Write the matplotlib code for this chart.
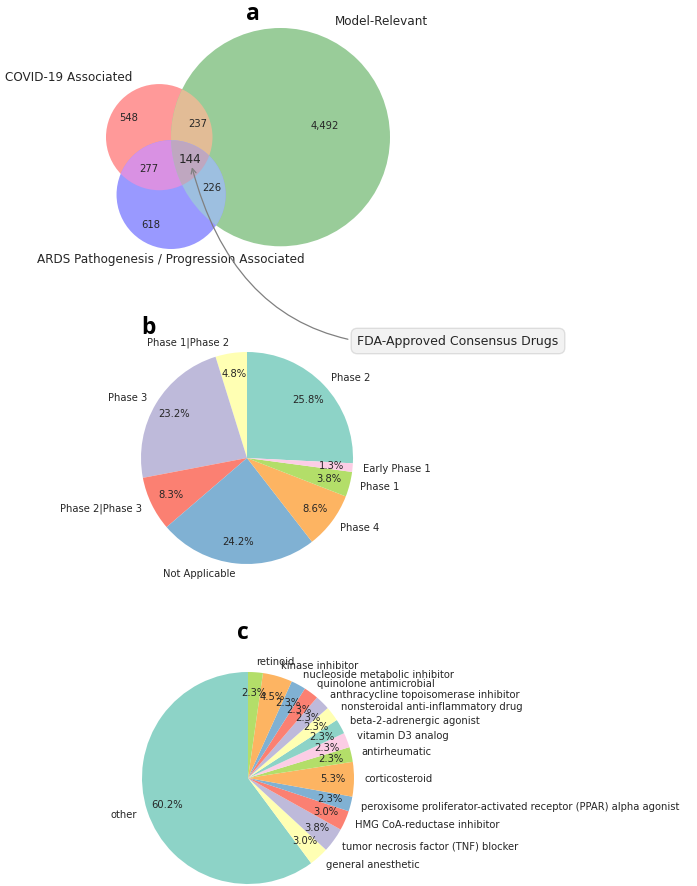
import numpy as np
import matplotlib.pyplot as plt
from matplotlib.patches import Circle, Polygon

plt.rcParams['font.family'] = 'DejaVu Sans'
plt.rcParams['font.size'] = 7.2
plt.rcParams['text.color'] = '#262626'

# ---- data ----
# venn regions: A = COVID-19, B = Model-Relevant, C = ARDS
set_names = ['COVID-19 Associated', 'Model-Relevant',
             'ARDS Pathogenesis / Progression Associated']
region_ids = ['100', '010', '110', '001', '101', '011', '111']
region_counts = [548, 4492, 237, 618, 277, 226, 144]
region_colors = {'100': '#ff9999', '010': '#99cc99', '001': '#9999ff',
                 '110': '#e2bc96', '101': '#d991e3', '011': '#9dbfe0',
                 '111': '#bfa7c0'}

phase_labels = ['Phase 2', 'Phase 1|Phase 2', 'Phase 3', 'Phase 2|Phase 3',
                'Not Applicable', 'Phase 4', 'Phase 1', 'Early Phase 1']
phase_share = [25.8, 4.8, 23.2, 8.3, 24.2, 8.6, 3.8, 1.3]

moa_labels = ['other', 'general anesthetic', 'tumor necrosis factor (TNF) blocker',
              'HMG CoA-reductase inhibitor',
              'peroxisome proliferator-activated receptor (PPAR) alpha agonist',
              'corticosteroid', 'antirheumatic', 'vitamin D3 analog',
              'beta-2-adrenergic agonist', 'nonsteroidal anti-inflammatory drug',
              'anthracycline topoisomerase inhibitor', 'quinolone antimicrobial',
              'nucleoside metabolic inhibitor', 'kinase inhibitor', 'retinoid']
moa_counts = [80, 4, 5, 4, 3, 7, 3, 3, 3, 3, 3, 3, 3, 6, 3]

W, H = 697, 886
fig = plt.figure(figsize=(W / 100, H / 100), dpi=100)


def px_axes(x0, y0, x1, y1):
    # pixel box (top-left origin) -> figure axes
    return fig.add_axes([x0 / W, 1 - y1 / H, (x1 - x0) / W, (y1 - y0) / H])


# ---- venn geometry (area proportional, like matplotlib_venn) ----
cnt = dict(zip(region_ids, region_counts))
size_a = sum(v for k, v in cnt.items() if k[0] == '1')
size_b = sum(v for k, v in cnt.items() if k[1] == '1')
size_c = sum(v for k, v in cnt.items() if k[2] == '1')
ab = cnt['110'] + cnt['111']
ac = cnt['101'] + cnt['111']
bc = cnt['011'] + cnt['111']
ra, rb, rc = [np.sqrt(s / np.pi) for s in (size_a, size_b, size_c)]


def lens_area(r1, r2, d):
    if d >= r1 + r2:
        return 0.0
    if d <= abs(r1 - r2):
        return np.pi * min(r1, r2) ** 2
    a1 = r1 ** 2 * np.arccos((d ** 2 + r1 ** 2 - r2 ** 2) / (2 * d * r1))
    a2 = r2 ** 2 * np.arccos((d ** 2 + r2 ** 2 - r1 ** 2) / (2 * d * r2))
    a3 = 0.5 * np.sqrt((-d + r1 + r2) * (d + r1 - r2) * (d - r1 + r2) * (d + r1 + r2))
    return a1 + a2 - a3


def find_distance(r1, r2, area):
    lo, hi = abs(r1 - r2), r1 + r2
    for _ in range(100):
        mid = (lo + hi) / 2
        if lens_area(r1, r2, mid) > area:
            lo = mid
        else:
            hi = mid
    return (lo + hi) / 2


d_ab = find_distance(ra, rb, ab)
d_ac = find_distance(ra, rc, ac)
d_bc = find_distance(rb, rc, bc)
cx_c = (d_ac ** 2 - d_bc ** 2 + d_ab ** 2) / (2 * d_ab)
cy_c = -np.sqrt(max(d_ac ** 2 - cx_c ** 2, 0))
centers = [np.array([0.0, 0.0]), np.array([d_ab, 0.0]), np.array([cx_c, cy_c])]
radii = [ra, rb, rc]

ax_v = px_axes(106, 28, 390, 249)
xmin = min(c[0] - r for c, r in zip(centers, radii))
xmax = max(c[0] + r for c, r in zip(centers, radii))
ymin = min(c[1] - r for c, r in zip(centers, radii))
ymax = max(c[1] + r for c, r in zip(centers, radii))
ax_v.set_xlim(xmin, xmax)
ax_v.set_ylim(ymin, ymax)
ax_v.set_aspect('equal', adjustable='datalim')
ax_v.axis('off')


def circ(i, color='none'):
    return Circle(centers[i], radii[i], facecolor=color, edgecolor='none',
                  transform=ax_v.transData)


for i, rid in enumerate(['100', '010', '001']):
    ax_v.add_patch(circ(i, region_colors[rid]))
for (i, j), rid in [((0, 1), '110'), ((0, 2), '101'), ((1, 2), '011')]:
    p = circ(i, region_colors[rid])
    ax_v.add_patch(p)
    p.set_clip_path(circ(j))

# triple overlap as convex polygon
t = np.linspace(0, 2 * np.pi, 3000)
pts = []
for c, r in zip(centers, radii):
    pp = np.c_[c[0] + r * np.cos(t), c[1] + r * np.sin(t)]
    ok = np.ones(len(pp), bool)
    for c2, r2 in zip(centers, radii):
        ok &= np.hypot(pp[:, 0] - c2[0], pp[:, 1] - c2[1]) <= r2 + 1e-9
    pts.append(pp[ok])
pts = np.vstack(pts)
m = pts.mean(axis=0)
pts = pts[np.argsort(np.arctan2(pts[:, 1] - m[1], pts[:, 0] - m[0]))]
ax_v.add_patch(Polygon(pts, closed=True, facecolor=region_colors['111'], edgecolor='none'))

# region label positions: centroid of each region, nudged like the original
gx, gy = np.meshgrid(np.linspace(xmin, xmax, 700), np.linspace(ymin, ymax, 600))
inside = [np.hypot(gx - c[0], gy - c[1]) <= r for c, r in zip(centers, radii)]
label_shift = {'100': (-4.4, 1.5), '010': (12.2, 3.0), '001': (-4.1, -3.3),
               '110': (2.2, -0.4), '011': (1.5, 1.1), '101': (-1.5, -0.4),
               '111': (0.7, 0.4)}
label_pos = {}
for rid in region_ids:
    mask = np.ones_like(gx, bool)
    for k, flag in enumerate(rid):
        mask &= inside[k] if flag == '1' else ~inside[k]
    pos = np.array([gx[mask].mean(), gy[mask].mean()]) + np.array(label_shift.get(rid, (0, 0)))
    label_pos[rid] = pos
    ax_v.text(pos[0], pos[1], f'{cnt[rid]:,}', ha='center', va='center',
              fontsize=8.64 if rid == '111' else 7.2)

ax_v.text(centers[0][0] - ra / 2, centers[0][1] + ra, set_names[0],
          ha='right', va='bottom', fontsize=8.64)
ax_v.text(centers[1][0] + rb / 2, centers[1][1] + rb, set_names[1],
          ha='left', va='bottom', fontsize=8.64)
ax_v.text(centers[2][0], centers[2][1] - rc * 1.08, set_names[2],
          ha='center', va='top', fontsize=8.64)

ax_v.annotate('FDA-Approved Consensus Drugs',
              xy=label_pos['111'] + np.array([0.55, -2.0]), xycoords='data',
              xytext=(458, H - 341), textcoords='figure pixels',
              ha='center', va='center', fontsize=9,
              bbox=dict(boxstyle='round,pad=0.5', fc='gray', alpha=0.1),
              arrowprops=dict(arrowstyle='->', connectionstyle='arc3,rad=-0.45',
                              color='gray', lw=0.9),
              annotation_clip=False)

# ---- pies ----
set3 = list(plt.cm.Set3.colors[:8])

ax_b = px_axes(247 - 106, 458 - 106, 247 + 106, 458 + 106)
ax_b.pie(phase_share, labels=phase_labels, colors=set3, autopct='%1.1f%%',
         pctdistance=0.8, labeldistance=1.1, counterclock=True,
         startangle=90 - 360 * phase_share[0] / sum(phase_share),
         textprops=dict(fontsize=7.2))
ax_b.set_xlim(-1, 1)
ax_b.set_ylim(-1, 1)

moa_colors = [set3[i % 8] for i in range(len(moa_counts))]
ax_c = px_axes(248 - 106, 778 - 106, 248 + 106, 778 + 106)
ax_c.pie(moa_counts, labels=moa_labels, colors=moa_colors, autopct='%1.1f%%',
         pctdistance=0.8, labeldistance=1.1, counterclock=True, startangle=90,
         textprops=dict(fontsize=7.2))
ax_c.set_xlim(-1, 1)
ax_c.set_ylim(-1, 1)

# panel letters
for letter, (x, y) in zip('abc', [(253, 14), (148, 328), (243, 633)]):
    fig.text(x / W, 1 - y / H, letter, ha='center', va='center',
             fontsize=16.5, fontweight='bold', family='Open Sans', color='black')

fig.savefig('out.png', dpi=100)
